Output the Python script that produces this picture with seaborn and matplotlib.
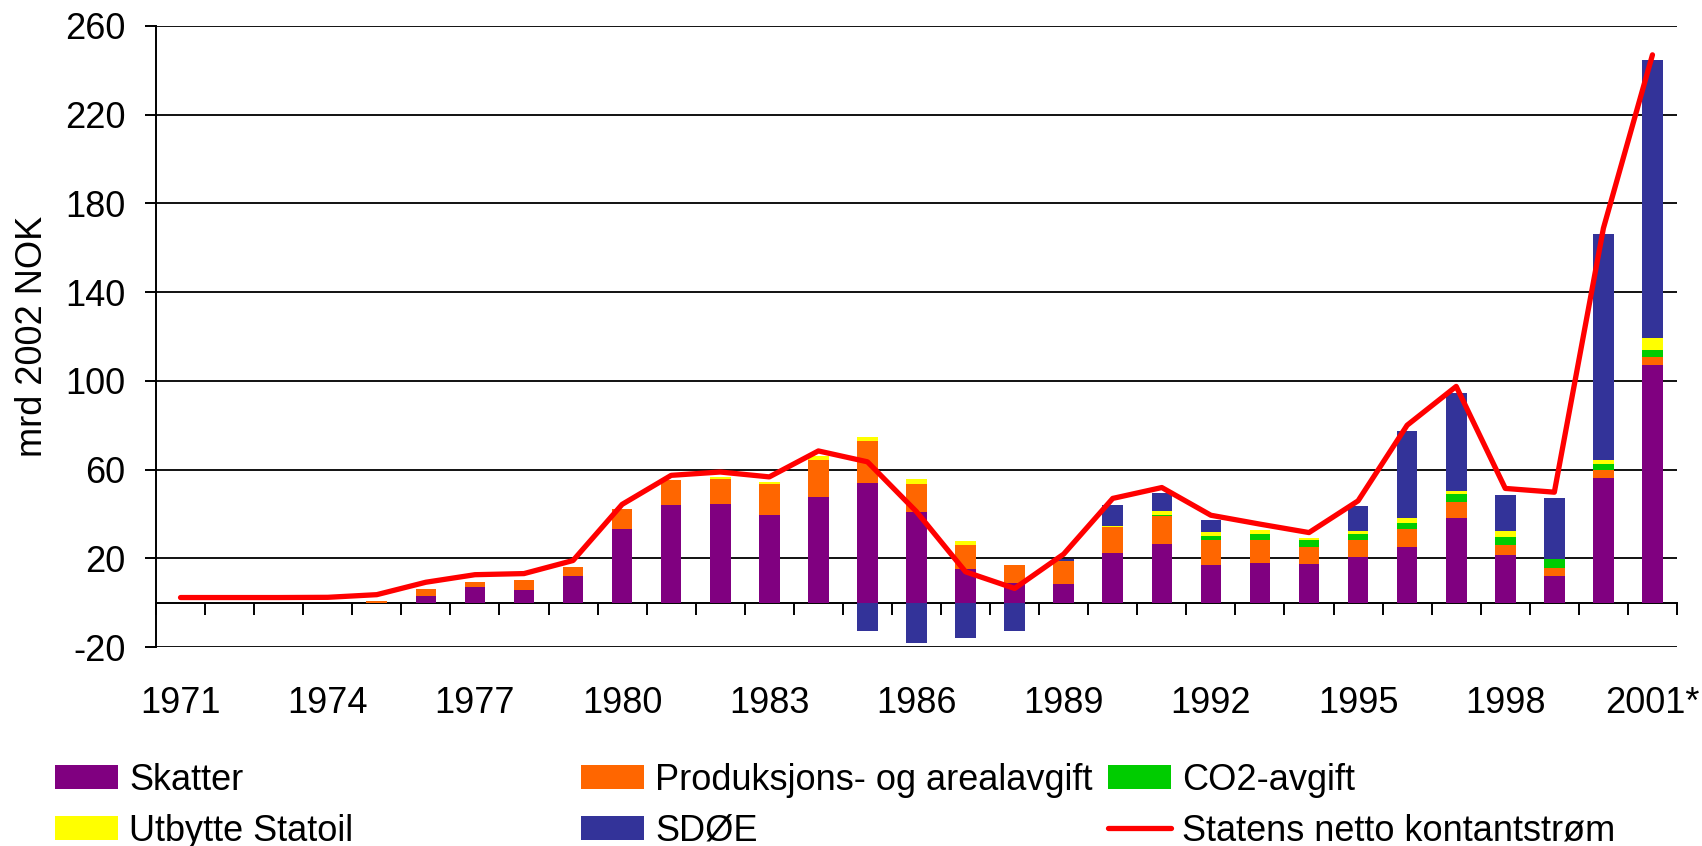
import matplotlib

matplotlib.use("Agg")
import matplotlib.pyplot as plt
import numpy as np
import seaborn as sns
from matplotlib.lines import Line2D
from matplotlib.patches import Patch

years = [
    "1971", "1972", "1973", "1974", "1975", "1976", "1977", "1978",
    "1979", "1980", "1981", "1982", "1983", "1984", "1985", "1986",
    "1987", "1988", "1989", "1990", "1991", "1992", "1993", "1994",
    "1995", "1996", "1997", "1998", "1999", "2000", "2001*",
]

# mrd 2002 NOK
skatter = [
    0, 0, 0, 0, 0, 3.0, 6.9, 5.9, 12.0, 33.1, 43.9, 44.4, 39.4, 47.5, 53.8,
    40.8, 15.1, 8.8, 8.4, 22.3, 26.4, 17.0, 17.9, 17.5, 20.6, 25.0, 38.1,
    21.4, 12.2, 56.0, 107.1,
]
produksjon = [
    0, 0, 0, 0, 0.6, 3.3, 2.3, 4.2, 4.2, 9.0, 11.3, 11.2, 14.0, 16.7, 19.0,
    12.6, 10.8, 8.1, 10.3, 11.7, 12.6, 11.2, 10.3, 7.5, 7.6, 8.1, 7.2, 4.5,
    3.6, 3.6, 3.6,
]
co2 = [
    0, 0, 0, 0, 0, 0, 0, 0, 0, 0, 0, 0, 0, 0, 0, 0, 0, 0, 0, 0,
    0.5, 1.8, 2.7, 3.2, 2.7, 2.7, 3.6, 3.6, 4.0, 3.1, 3.2,
]
utbytte = [
    0, 0, 0, 0, 0, 0, 0, 0, 0, 0, 0, 0.9, 0.9, 2.1, 1.8, 2.2, 1.8, 0, 0,
    0.6, 1.7, 1.8, 1.8, 0.9, 1.3, 2.3, 1.3, 2.7, 0, 1.8, 5.4,
]
sdoe = [
    0, 0, 0, 0, 0, 0, 0, 0, 0, 0, 0, 0, 0, 0, -12.6, -18.2, -15.9, -12.6,
    0.9, 9.3, 8.1, 5.4, 0, 0, 11.3, 39.2, 44.2, 16.3, 27.2, 101.5, 125.3,
]
netto = [
    2.3, 2.3, 2.3, 2.4, 3.6, 9.2, 12.6, 13.1, 19.0, 44.3, 57.4, 58.9, 56.7,
    68.4, 63.5, 41.0, 13.9, 6.4, 21.9, 47.0, 51.9, 39.4, 35.4, 31.6, 45.9,
    80.0, 97.5, 51.5, 49.8, 168.8, 247.0,
]

PURPLE = "#800080"
ORANGE = "#FF6600"
GREEN = "#00CC00"
YELLOW = "#FFFF00"
BLUE = "#333399"
RED = "#FF0000"
FS = 26
LINE_W = 3.8

sns.set_theme(style="white")
plt.rcParams["font.family"] = ["Liberation Sans", "DejaVu Sans"]
plt.rcParams["axes.unicode_minus"] = False
plt.rcParams["text.color"] = "black"
plt.rcParams["axes.labelcolor"] = "black"
plt.rcParams["xtick.color"] = "black"
plt.rcParams["ytick.color"] = "black"

fig = plt.figure(figsize=(17.02, 8.46), dpi=100)
ax = fig.add_axes([156 / 1702, 199 / 846, 1521 / 1702, 621 / 846])

# stacked bars, drawn as cumulative totals from the top layer down
lvl1 = np.array(skatter)
lvl2 = lvl1 + np.array(produksjon)
lvl3 = lvl2 + np.array(co2)
lvl4 = lvl3 + np.array(utbytte)
sd = np.array(sdoe)
lvl5 = np.where(sd >= 0, lvl4 + sd, sd)

for heights, col in [
    (lvl5, BLUE),
    (lvl4, YELLOW),
    (lvl3, GREEN),
    (lvl2, ORANGE),
    (lvl1, PURPLE),
]:
    sns.barplot(
        x=years, y=heights, color=col, saturation=1, width=0.42,
        linewidth=0, errorbar=None, ax=ax,
    )

sns.lineplot(
    x=np.arange(len(years)), y=netto, color=RED, linewidth=LINE_W,
    solid_capstyle="round", solid_joinstyle="round", ax=ax,
)

ax.set_xlim(-0.5, len(years) - 0.5)
ax.set_ylim(-20, 260)
ax.set_yticks(np.arange(-20, 261, 40))
ax.set_xticks(np.arange(0, len(years), 3))
ax.set_xticklabels(years[::3])
ax.set_xlabel("")
ax.set_ylabel("mrd 2002 NOK", fontsize=FS)
ax.yaxis.set_label_coords(-0.0697, 0.5)

ax.set_axisbelow(True)
ax.yaxis.grid(True, color="#111111", linewidth=1.4)
ax.xaxis.grid(False)
for side in ["top", "right", "bottom"]:
    ax.spines[side].set_visible(False)
ax.spines["left"].set_color("black")
ax.spines["left"].set_linewidth(1.4)

ax.tick_params(axis="x", bottom=True, length=0, pad=28, labelsize=FS)
ax.tick_params(
    axis="y", left=True, length=8, width=1.4, color="black",
    direction="out", pad=14, labelsize=FS,
)

# category axis line at zero with ticks between the years
zero_axis = ax.secondary_xaxis(20 / 280)
zero_axis.set_ticks(np.arange(-0.5, len(years), 1))
zero_axis.tick_params(
    axis="x", bottom=True, top=False, length=8.5, width=1.4,
    color="black", direction="out", labelbottom=False, labeltop=False,
)
zero_axis.spines["bottom"].set_color("black")
zero_axis.spines["bottom"].set_linewidth(1.4)

legend_kw = dict(
    loc="upper left", frameon=False, fontsize=FS, borderpad=0,
    borderaxespad=0, handlelength=1.75, handleheight=0.64,
    handletextpad=0.31, labelspacing=0.43,
)
columns = [
    (55, [Patch(color=PURPLE, lw=0), Patch(color=YELLOW, lw=0)],
     ["Skatter", "Utbytte Statoil"]),
    (581, [Patch(color=ORANGE, lw=0), Patch(color=BLUE, lw=0)],
     ["Produksjons- og arealavgift", "SDØE"]),
    (1108, [Patch(color=GREEN, lw=0), Line2D([], [], color=RED, lw=LINE_W)],
     ["CO2-avgift", "Statens netto kontantstrøm"]),
]
for x_px, handles, labels in columns:
    fig.legend(
        handles=handles, labels=labels,
        bbox_to_anchor=(x_px / 1702, 1 - 763 / 846), **legend_kw,
    )

fig.savefig("out.png", dpi=100)
